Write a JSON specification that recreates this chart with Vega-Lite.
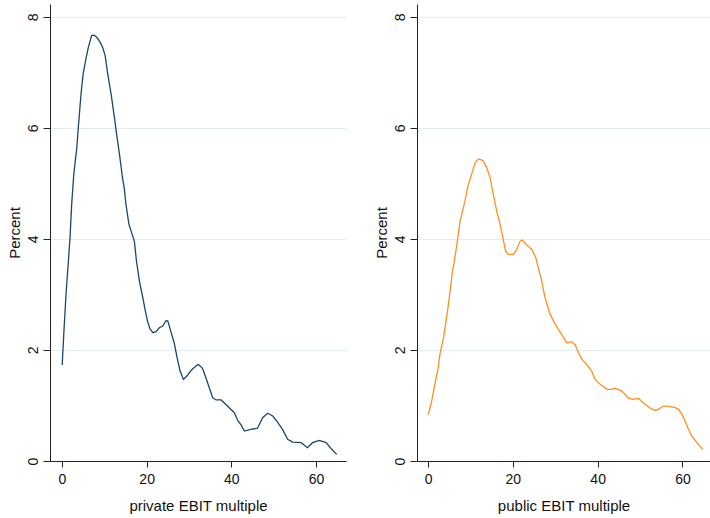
{
  "$schema": "https://vega.github.io/schema/vega-lite/v6.json",
  "background": "white",
  "padding": {"left": 6, "top": 4, "right": 0, "bottom": 5},
  "spacing": 27,
  "config": {
    "view": {"stroke": null},
    "font": "Liberation Sans",
    "axis": {
      "domainColor": "#222",
      "tickColor": "#222",
      "labelColor": "#111",
      "titleColor": "#111",
      "labelFont": "Liberation Sans",
      "titleFont": "Liberation Sans",
      "labelFontSize": 14,
      "titleFontSize": 15,
      "titleFontWeight": "normal",
      "gridColor": "#e3edf0",
      "gridWidth": 1
    }
  },
  "datasets": {
    "private": [
      {"x": 0.05, "y": 1.73}, {"x": 0.4, "y": 2.25}, {"x": 0.95, "y": 3.0}, {"x": 1.4, "y": 3.48},
      {"x": 1.9, "y": 4.02}, {"x": 2.3, "y": 4.63}, {"x": 2.8, "y": 5.17}, {"x": 3.5, "y": 5.64},
      {"x": 3.85, "y": 6.0}, {"x": 4.5, "y": 6.61}, {"x": 5.0, "y": 6.97}, {"x": 5.7, "y": 7.26},
      {"x": 6.2, "y": 7.44}, {"x": 7.0, "y": 7.66}, {"x": 7.6, "y": 7.67}, {"x": 8.2, "y": 7.63},
      {"x": 8.8, "y": 7.57}, {"x": 9.6, "y": 7.45}, {"x": 10.2, "y": 7.3}, {"x": 10.8, "y": 6.97},
      {"x": 11.6, "y": 6.61}, {"x": 12.4, "y": 6.18}, {"x": 12.9, "y": 5.89}, {"x": 13.7, "y": 5.46},
      {"x": 14.3, "y": 5.1}, {"x": 14.7, "y": 4.92}, {"x": 15.1, "y": 4.63}, {"x": 15.8, "y": 4.27},
      {"x": 16.5, "y": 4.1}, {"x": 17.1, "y": 3.96}, {"x": 17.6, "y": 3.6}, {"x": 18.3, "y": 3.24},
      {"x": 19.1, "y": 2.94}, {"x": 19.7, "y": 2.7}, {"x": 20.2, "y": 2.52}, {"x": 20.8, "y": 2.38},
      {"x": 21.5, "y": 2.31}, {"x": 22.2, "y": 2.33}, {"x": 23.0, "y": 2.4}, {"x": 23.8, "y": 2.43},
      {"x": 24.6, "y": 2.53}, {"x": 25.0, "y": 2.52}, {"x": 25.7, "y": 2.34}, {"x": 26.5, "y": 2.13},
      {"x": 27.2, "y": 1.86}, {"x": 27.9, "y": 1.62}, {"x": 28.7, "y": 1.47}, {"x": 29.5, "y": 1.53},
      {"x": 30.5, "y": 1.63}, {"x": 31.3, "y": 1.69}, {"x": 32.2, "y": 1.74}, {"x": 33.2, "y": 1.67},
      {"x": 34.0, "y": 1.5}, {"x": 34.8, "y": 1.32}, {"x": 35.6, "y": 1.14}, {"x": 36.4, "y": 1.1},
      {"x": 37.6, "y": 1.1}, {"x": 39.1, "y": 0.99}, {"x": 40.7, "y": 0.87}, {"x": 41.6, "y": 0.72},
      {"x": 42.3, "y": 0.65}, {"x": 43.1, "y": 0.54}, {"x": 44.6, "y": 0.57}, {"x": 46.2, "y": 0.59},
      {"x": 47.4, "y": 0.78}, {"x": 48.6, "y": 0.86}, {"x": 49.8, "y": 0.81}, {"x": 51.0, "y": 0.69},
      {"x": 52.1, "y": 0.57}, {"x": 53.3, "y": 0.39}, {"x": 54.5, "y": 0.34}, {"x": 56.5, "y": 0.33},
      {"x": 58.0, "y": 0.24}, {"x": 59.2, "y": 0.33}, {"x": 60.8, "y": 0.37}, {"x": 62.4, "y": 0.33},
      {"x": 63.5, "y": 0.23}, {"x": 64.9, "y": 0.12}
    ],
    "public": [
      {"x": 0.07, "y": 0.84}, {"x": 0.87, "y": 1.08}, {"x": 1.65, "y": 1.4}, {"x": 2.4, "y": 1.68},
      {"x": 2.8, "y": 1.92}, {"x": 3.7, "y": 2.24}, {"x": 4.6, "y": 2.7}, {"x": 5.2, "y": 3.06},
      {"x": 5.7, "y": 3.38}, {"x": 6.2, "y": 3.6}, {"x": 6.8, "y": 3.9}, {"x": 7.55, "y": 4.32},
      {"x": 8.7, "y": 4.68}, {"x": 9.5, "y": 4.98}, {"x": 10.3, "y": 5.17}, {"x": 11.1, "y": 5.37},
      {"x": 11.9, "y": 5.44}, {"x": 13.0, "y": 5.41}, {"x": 13.8, "y": 5.29}, {"x": 14.6, "y": 5.11},
      {"x": 15.4, "y": 4.8}, {"x": 16.2, "y": 4.5}, {"x": 17.0, "y": 4.26}, {"x": 17.8, "y": 3.96},
      {"x": 18.3, "y": 3.78}, {"x": 18.9, "y": 3.72}, {"x": 20.1, "y": 3.72}, {"x": 20.9, "y": 3.81},
      {"x": 21.7, "y": 3.96}, {"x": 22.2, "y": 3.98}, {"x": 23.3, "y": 3.89}, {"x": 24.5, "y": 3.81},
      {"x": 25.4, "y": 3.66}, {"x": 26.0, "y": 3.48}, {"x": 26.7, "y": 3.28}, {"x": 27.6, "y": 2.94},
      {"x": 28.8, "y": 2.64}, {"x": 30.0, "y": 2.46}, {"x": 31.5, "y": 2.28}, {"x": 32.7, "y": 2.13},
      {"x": 33.9, "y": 2.15}, {"x": 34.7, "y": 2.09}, {"x": 35.5, "y": 1.95}, {"x": 36.3, "y": 1.83},
      {"x": 37.4, "y": 1.74}, {"x": 38.6, "y": 1.62}, {"x": 39.4, "y": 1.47}, {"x": 40.6, "y": 1.38},
      {"x": 42.2, "y": 1.29}, {"x": 43.3, "y": 1.29}, {"x": 44.1, "y": 1.31}, {"x": 45.7, "y": 1.26},
      {"x": 47.3, "y": 1.13}, {"x": 48.4, "y": 1.11}, {"x": 49.6, "y": 1.13}, {"x": 50.8, "y": 1.05},
      {"x": 52.4, "y": 0.95}, {"x": 53.6, "y": 0.91}, {"x": 54.3, "y": 0.93}, {"x": 55.5, "y": 0.99},
      {"x": 56.7, "y": 0.99}, {"x": 58.3, "y": 0.96}, {"x": 59.1, "y": 0.93}, {"x": 59.9, "y": 0.84},
      {"x": 60.6, "y": 0.72}, {"x": 61.4, "y": 0.57}, {"x": 62.2, "y": 0.45}, {"x": 63.4, "y": 0.33},
      {"x": 64.8, "y": 0.21}
    ]
  },
  "hconcat": [
    {
      "width": 296,
      "height": 457,
      "data": {"name": "private"},
      "mark": {"type": "line", "color": "#1a476f", "strokeWidth": 1.3, "clip": true},
      "encoding": {
        "x": {
          "field": "x", "type": "quantitative",
          "scale": {"domain": [-2.83, 67.1], "nice": false, "zero": false},
          "axis": {"title": "private EBIT multiple", "values": [0, 20, 40, 60], "grid": false,
                   "tickSize": 6, "labelPadding": 5, "titlePadding": 12, "labelFlush": false}
        },
        "y": {
          "field": "y", "type": "quantitative",
          "scale": {"domain": [0, 8.23], "nice": false},
          "axis": {"title": "Percent", "values": [0, 2, 4, 6, 8], "grid": true,
                   "tickSize": 7, "labelAngle": 270, "labelAlign": "center", "labelBaseline": "bottom",
                   "labelPadding": 3, "titlePadding": 4, "labelFlush": false}
        }
      }
    },
    {
      "width": 293,
      "height": 457,
      "data": {"name": "public"},
      "mark": {"type": "line", "color": "#ff9020", "strokeWidth": 1.3, "clip": true},
      "encoding": {
        "x": {
          "field": "x", "type": "quantitative",
          "scale": {"domain": [-2.6, 66.5], "nice": false, "zero": false},
          "axis": {"title": "public EBIT multiple", "values": [0, 20, 40, 60], "grid": false,
                   "tickSize": 6, "labelPadding": 5, "titlePadding": 12, "labelFlush": false}
        },
        "y": {
          "field": "y", "type": "quantitative",
          "scale": {"domain": [0, 8.23], "nice": false},
          "axis": {"title": "Percent", "values": [0, 2, 4, 6, 8], "grid": true,
                   "tickSize": 7, "labelAngle": 270, "labelAlign": "center", "labelBaseline": "bottom",
                   "labelPadding": 3, "titlePadding": 4, "labelFlush": false}
        }
      }
    }
  ]
}
